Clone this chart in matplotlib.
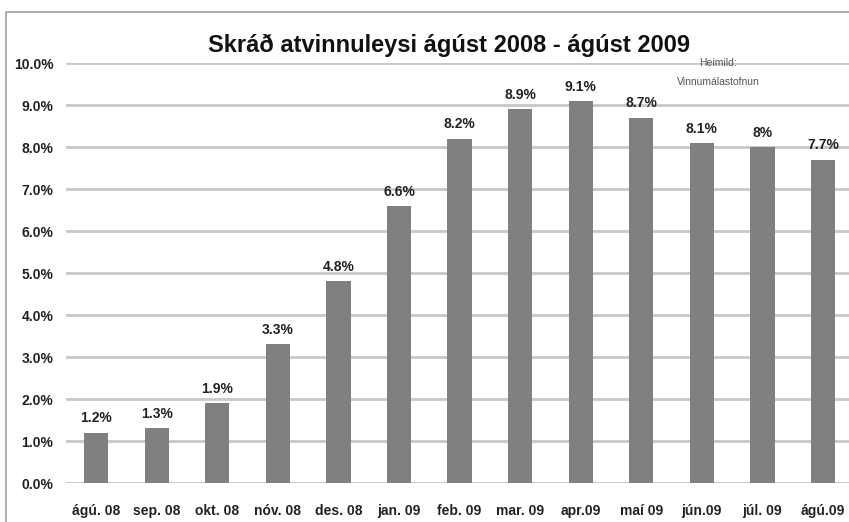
import matplotlib.pyplot as plt
from matplotlib.patches import Rectangle
from matplotlib.ticker import FuncFormatter

months = ["ágú. 08", "sep. 08", "okt. 08", "nóv. 08", "des. 08", "jan. 09",
          "feb. 09", "mar. 09", "apr.09", "maí 09", "jún.09", "júl. 09", "ágú.09"]
rates = [1.2, 1.3, 1.9, 3.3, 4.8, 6.6, 8.2, 8.9, 9.1, 8.7, 8.1, 8.0, 7.7]
rate_labels = ["1.2%", "1.3%", "1.9%", "3.3%", "4.8%", "6.6%", "8.2%",
               "8.9%", "9.1%", "8.7%", "8.1%", "8%", "7.7%"]

plt.rcParams["font.family"] = ["Liberation Sans", "DejaVu Sans"]

fig = plt.figure(figsize=(8.49, 5.22), dpi=100)
ax = fig.add_axes([0.0777, 0.0747, 0.9223, 0.8046])

# border of the chart box
fig.patches.append(Rectangle((0.007, -0.05), 1.1, 1.027, transform=fig.transFigure,
                             fill=False, edgecolor="#a0a0a0", linewidth=1.2))

x = list(range(len(months)))
ax.bar(x, rates, width=0.4, color="#808080", zorder=3)
for xi, v, lab in zip(x, rates, rate_labels):
    ax.text(xi, v + 0.17, lab, ha="center", va="bottom", fontsize=10,
            fontweight="bold", color="#222222")

ax.set_ylim(0, 10)
ax.set_xlim(-0.5, 12.43)
ax.set_yticks([i for i in range(11)])
ax.yaxis.set_major_formatter(FuncFormatter(lambda v, p: f"{v:.1f}%"))
ax.set_xticks(x)
ax.set_xticklabels(months)
ax.grid(axis="y", color="#c8c8c8", linewidth=2, zorder=0)
for s in ax.spines.values():
    s.set_visible(False)
ax.axhline(0, color="#c8c8c8", linewidth=2, zorder=2)
ax.tick_params(axis="both", length=0, labelsize=10, colors="#222222")
ax.tick_params(axis="x", pad=15)
ax.tick_params(axis="y", pad=9)
for t in ax.get_xticklabels() + ax.get_yticklabels():
    t.set_fontweight("bold")

fig.text(0.529, 0.913, "Skráð atvinnuleysi ágúst 2008 - ágúst 2009", ha="center",
         va="center", fontsize=17, fontweight="bold", color="#111111")
fig.text(0.846, 0.879, "Heimild:", ha="center", va="center", fontsize=7.5, color="#555555")
fig.text(0.846, 0.842, "Vinnumálastofnun", ha="center", va="center", fontsize=7.5, color="#555555")

fig.savefig("out.png", dpi=100)
